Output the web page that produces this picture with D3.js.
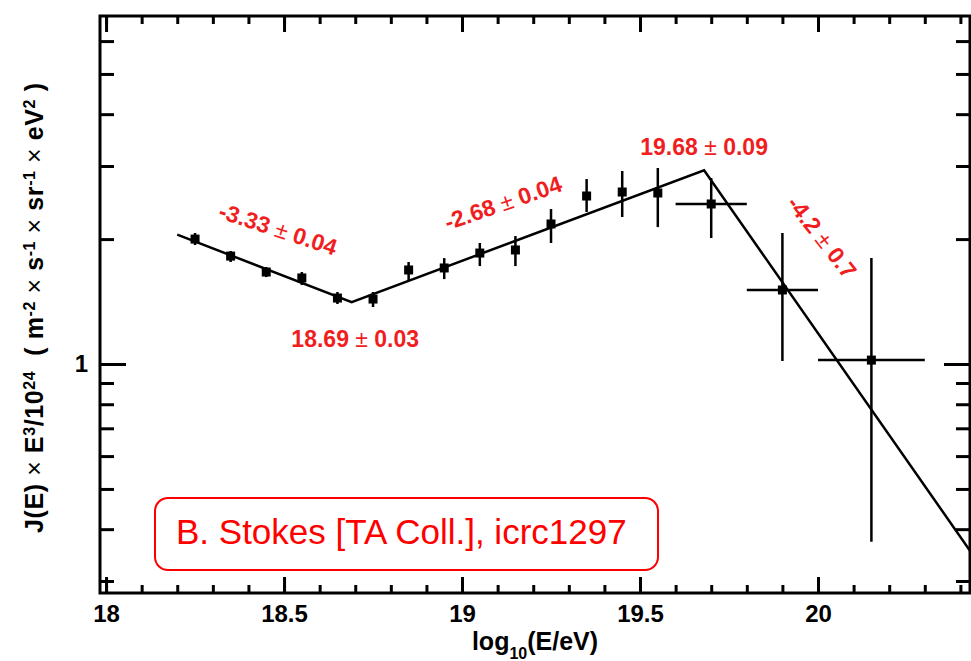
<!DOCTYPE html>
<html>
<head>
<meta charset="utf-8">
<script src="https://cdn.jsdelivr.net/npm/d3@7"></script>
<style>
body { margin: 0; background: #fff; }
svg { display: block; font-family: "Liberation Sans", Arial, sans-serif; }
</style>
</head>
<body>
<svg id="chart" width="971" height="661"></svg>
<script>
// TA spectrum, J(E) x E^3 with broken power law fit
const logE = [18.25, 18.35, 18.45, 18.55, 18.65, 18.75, 18.85, 18.95, 19.05, 19.15, 19.25, 19.35, 19.45, 19.55, 19.7, 19.9, 20.15]
const flux = [2.00, 1.82, 1.666, 1.612, 1.442, 1.434, 1.685, 1.704, 1.851, 1.883, 2.175, 2.54, 2.597, 2.583, 2.43, 1.508, 1.022]
const fluxHi = [2.069, 1.872, 1.713, 1.666, 1.491, 1.491, 1.761, 1.80, 1.957, 2.034, 2.363, 2.791, 2.918, 2.967, 2.807, 2.069, 1.80]
const fluxLo = [1.935, 1.761, 1.62, 1.55, 1.395, 1.372, 1.594, 1.602, 1.722, 1.722, 1.957, 2.324, 2.261, 2.138, 2.012, 1.017, 0.373]
// wide bins at the high end (horizontal bars)
const binLo = [null, null, null, null, null, null, null, null, null, null, null, null, null, null, 19.6, 19.8, 20.0]
const binHi = [null, null, null, null, null, null, null, null, null, null, null, null, null, null, 19.8, 20.0, 20.3]

// fit: broken power law vertices
const fitX = [18.2, 18.69, 19.68, 20.43]
const fitY = [2.05, 1.41, 2.93, 0.352]

const xMajor = [18, 18.5, 19, 19.5, 20]
const xLabels = ['18', '18.5', '19', '19.5', '20']
const xMinor = d3.range(180, 205).map(d => d / 10)
const yMajor = [1]
const yLabels = ['1']
const yMinor = [0.3, 0.4, 0.5, 0.6, 0.7, 0.8, 0.9, 2, 3, 4, 5, 6]

const notes = [
    {text: ['18.69', '0.03'], x: 18.70, y: 1.149, angle: 0},
    {text: ['19.68', '0.09'], x: 19.68, y: 3.333, angle: 0},
    {text: ['-3.33', '0.04'], x: 18.483, y: 2.115, angle: 18},
    {text: ['-2.68', '0.04'], x: 19.115, y: 2.443, angle: -19},
    {text: ['-4.2', '0.7'], x: 20.011, y: 2.023, angle: 52}
]

const red = '#f01e1e'
const mLeft = 100, mTop = 16, mRight = 970, mBottom = 593

const svg = d3.select('#chart')

const x = d3.scaleLinear().domain([17.983, 20.427]).range([mLeft, mRight])
const y = d3.scaleLog().domain([0.2807, 6.896]).range([mBottom, mTop])

function styleAxis(g) {
    g.select('.domain').remove()
    g.selectAll('.tick line').attr('stroke', '#000').attr('stroke-width', 3)
    g.selectAll('.tick text')
        .attr('fill', '#000')
        .style('font-size', '24px')
        .style('font-weight', 'bold')
        .style('font-family', '"Liberation Sans", Arial, sans-serif')
}

// bottom
svg.append('g').attr('transform', 'translate(0,' + mBottom + ')')
    .call(d3.axisBottom(x).tickValues(xMinor).tickSizeInner(-8).tickSizeOuter(0).tickFormat(''))
    .call(styleAxis)
svg.append('g').attr('transform', 'translate(0,' + mBottom + ')')
    .call(d3.axisBottom(x).tickValues(xMajor).tickSizeInner(-16).tickSizeOuter(0).tickPadding(12)
        .tickFormat((d, i) => xLabels[i]))
    .call(styleAxis)
// top
svg.append('g').attr('transform', 'translate(0,' + mTop + ')')
    .call(d3.axisTop(x).tickValues(xMinor).tickSizeInner(-8).tickSizeOuter(0).tickFormat(''))
    .call(styleAxis)
svg.append('g').attr('transform', 'translate(0,' + mTop + ')')
    .call(d3.axisTop(x).tickValues(xMajor).tickSizeInner(-16).tickSizeOuter(0).tickFormat(''))
    .call(styleAxis)
// left
svg.append('g').attr('transform', 'translate(' + mLeft + ',0)')
    .call(d3.axisLeft(y).tickValues(yMinor).tickSizeInner(-14).tickSizeOuter(0).tickFormat(''))
    .call(styleAxis)
svg.append('g').attr('transform', 'translate(' + mLeft + ',0)')
    .call(d3.axisLeft(y).tickValues(yMajor).tickSizeInner(-26).tickSizeOuter(0).tickPadding(12)
        .tickFormat((d, i) => yLabels[i]))
    .call(styleAxis)
// right
svg.append('g').attr('transform', 'translate(' + mRight + ',0)')
    .call(d3.axisRight(y).tickValues(yMinor).tickSizeInner(-14).tickSizeOuter(0).tickFormat(''))
    .call(styleAxis)
svg.append('g').attr('transform', 'translate(' + mRight + ',0)')
    .call(d3.axisRight(y).tickValues(yMajor).tickSizeInner(-26).tickSizeOuter(0).tickFormat(''))
    .call(styleAxis)

// frame
svg.append('rect')
    .attr('x', mLeft).attr('y', mTop)
    .attr('width', mRight - mLeft).attr('height', mBottom - mTop)
    .attr('fill', 'none').attr('stroke', '#000').attr('stroke-width', 3)

// fit line
const fit = fitX.map((d, i) => [d, fitY[i]])
svg.append('path')
    .datum(fit)
    .attr('fill', 'none')
    .attr('stroke', '#000')
    .attr('stroke-width', 2.5)
    .attr('d', d3.line().x(d => x(d[0])).y(d => y(d[1])))

// error bars
const pts = logE.map((d, i) => ({e: d, f: flux[i], hi: fluxHi[i], lo: fluxLo[i], b0: binLo[i], b1: binHi[i]}))
const marks = svg.append('g')
marks.selectAll('line.v')
    .data(pts)
    .join('line')
    .attr('class', 'v')
    .attr('x1', d => x(d.e)).attr('x2', d => x(d.e))
    .attr('y1', d => y(d.hi)).attr('y2', d => y(d.lo))
    .attr('stroke', '#000').attr('stroke-width', 2.5)
marks.selectAll('line.h')
    .data(pts.filter(d => d.b0 != null))
    .join('line')
    .attr('class', 'h')
    .attr('x1', d => x(d.b0)).attr('x2', d => x(d.b1))
    .attr('y1', d => y(d.f)).attr('y2', d => y(d.f))
    .attr('stroke', '#000').attr('stroke-width', 2.5)
marks.selectAll('rect')
    .data(pts)
    .join('rect')
    .attr('x', d => x(d.e) - 4.5)
    .attr('y', d => y(d.f) - 4.5)
    .attr('width', 9).attr('height', 9)
    .attr('fill', '#000')

// fit annotations
notes.forEach(n => {
    const t = svg.append('text')
        .attr('transform', 'translate(' + x(n.x) + ',' + y(n.y) + ') rotate(' + n.angle + ')')
        .attr('text-anchor', 'middle')
        .attr('dy', '0.35em')
        .attr('fill', red)
        .style('font-size', '23px')
        .style('font-weight', 'bold')
    t.append('tspan').text(n.text[0] + ' ')
    t.append('tspan').style('font-weight', 'normal').text('±')
    t.append('tspan').text(' ' + n.text[1])
})

// axis titles
const yt = svg.append('text')
    .attr('transform', 'translate(43,308) rotate(-90)')
    .attr('text-anchor', 'middle')
    .attr('textLength', 450)
    .attr('lengthAdjust', 'spacing')
    .style('white-space', 'pre')
    .style('font-size', '25px')
    .style('font-weight', 'bold')
const ytParts = [
    ['J(E) ', 0], ['×', 2], [' E', 0], ['3', 1], ['/10', 0], ['24', 1], ['  ( m', 0], ['-2', 1],
    [' ', 0], ['×', 2], [' s', 0], ['-1', 1], [' ', 0], ['×', 2], [' sr', 0], ['-1', 1],
    [' ', 0], ['×', 2], [' eV', 0], ['2', 1], [' )', 0]
]
ytParts.forEach(p => {
    const s = yt.append('tspan').text(p[0])
    if (p[1] == 1) s.attr('baseline-shift', 'super').style('font-size', '16px')
    if (p[1] == 2) s.style('font-weight', 'normal')
})

const xt = svg.append('text')
    .attr('x', (mLeft + mRight) / 2).attr('y', 650)
    .attr('text-anchor', 'middle')
    .style('font-size', '25px')
    .style('font-weight', 'bold')
xt.append('tspan').text('log')
xt.append('tspan').attr('baseline-shift', 'sub').style('font-size', '16px').text('10')
xt.append('tspan').text('(E/eV)')

// credit box
svg.append('rect')
    .attr('x', 155).attr('y', 498)
    .attr('width', 503).attr('height', 72)
    .attr('rx', 13)
    .attr('fill', '#fff').attr('stroke', '#ff0000').attr('stroke-width', 2)
svg.append('text')
    .attr('x', 176).attr('y', 544)
    .attr('fill', '#ff0000')
    .style('font-size', '35px')
    .text('B. Stokes [TA Coll.], icrc1297')
</script>
</body>
</html>
